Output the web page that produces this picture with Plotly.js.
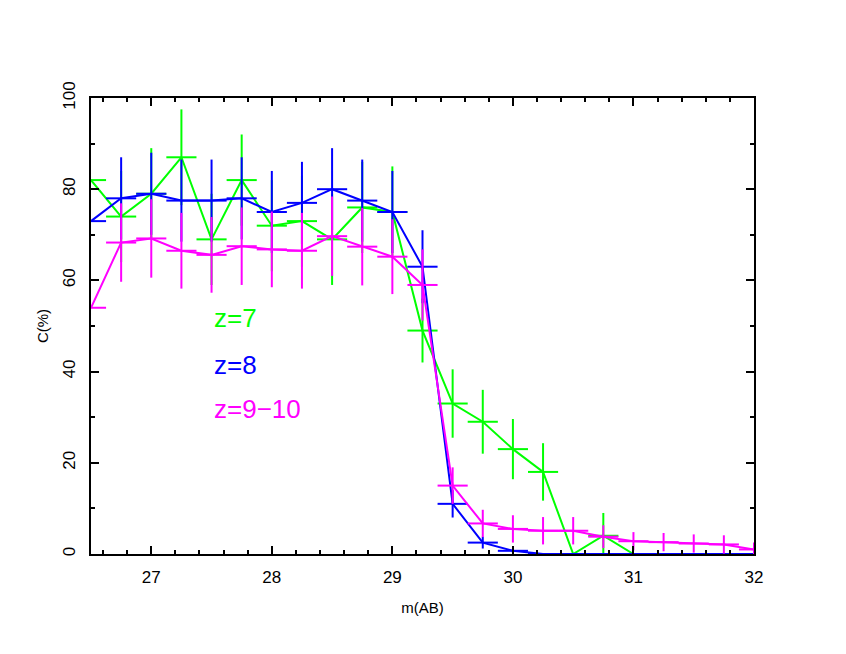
<!DOCTYPE html>
<html>
<head>
<meta charset="utf-8">
<script src="https://cdn.plot.ly/plotly-3.0.1.min.js"></script>
<style>
  body { margin: 0; background: #fff; }
  #chart { width: 846px; height: 654px; }
</style>
</head>
<body>
<div id="chart"></div>
<script>
// magnitude bins
const magZ7 = [26.5, 26.75, 27, 27.25, 27.5, 27.75, 28, 28.25, 28.5, 28.75, 29, 29.25, 29.5, 29.75, 30, 30.25, 30.5, 30.75, 31];
const magAll = [26.5, 26.75, 27, 27.25, 27.5, 27.75, 28, 28.25, 28.5, 28.75, 29, 29.25, 29.5, 29.75, 30, 30.25, 30.5, 30.75, 31, 31.25, 31.5, 31.75, 32];

// completeness (%) and errors (first bin sits on the frame, no bar visible)
const compZ7 = [82, 74, 79, 87, 69, 82, 72, 73, 69, 76, 75, 49, 33, 29, 23, 18, 0, 4, 0];
const errZ7  = [0, 10, 10, 10.5, 10, 10, 10, 10, 10, 10, 10, 7, 7.5, 7, 6.6, 6.3, 0, 5, 0];

const compZ8 = [73, 78, 79, 77.5, 77.5, 78, 75, 77, 80, 77.5, 75, 63, 11, 2.5, 0.7, 0, 0, 0, 0, 0, 0, 0, 0];
const errZ8  = [0, 9, 9, 9, 9, 9, 9, 9, 9, 9, 9, 8, 3, 1.3, 0.5, 0, 0, 0, 0, 0, 0, 0, 0];

const compZ910 = [54, 68.3, 69.2, 66.5, 65.6, 67.5, 66.8, 66.5, 69.7, 67.4, 65.2, 59, 15, 6.7, 5.5, 5.1, 5.1, 3.8, 2.8, 2.6, 2.3, 2.1, 1.0];
const errZ910  = [0, 8.6, 8.6, 8.3, 8.3, 8.5, 8.3, 8.3, 8.7, 8.5, 8.2, 7.8, 4, 3, 3, 3, 3, 2.5, 2, 2, 2, 2, 1.5];

const binHalf = 0.125;
const labels = ['z=7', 'z=8', 'z=9\u221210'];
const colors = ['#00ff00', '#0000ff', '#ff00ff'];

function makeTrace(x, y, err, color) {
  return {
    type: 'scatter',
    mode: 'lines',
    x: x,
    y: y,
    line: {color: color, width: 2},
    error_y: {type: 'data', array: err, visible: true, color: color, thickness: 2, width: 0},
    error_x: {type: 'constant', value: binHalf, visible: true, color: color, thickness: 2, width: 0},
    showlegend: false
  };
}

const data = [
  makeTrace(magZ7, compZ7, errZ7, colors[0]),
  makeTrace(magAll, compZ8, errZ8, colors[1]),
  makeTrace(magAll, compZ910, errZ910, colors[2])
];

const fontFam = 'Liberation Sans, Arial, sans-serif';

const axisCommon = {
  showline: true,
  linecolor: '#000',
  linewidth: 2,
  mirror: 'allticks',
  ticks: 'inside',
  ticklen: 8,
  tickwidth: 2,
  tickcolor: '#000',
  showgrid: false,
  zeroline: false,
  layer: 'above traces',
  ticklabelstandoff: 7,
  tickfont: {family: fontFam, size: 17, color: '#000'}
};

const layout = {
  width: 846,
  height: 654,
  margin: {l: 91, r: 92, t: 98, b: 100},
  paper_bgcolor: '#fff',
  plot_bgcolor: '#fff',
  xaxis: Object.assign({}, axisCommon, {
    range: [26.5, 32],
    dtick: 1,
    tick0: 27,
    minor: {ticks: 'inside', ticklen: 4, tickwidth: 2, tickcolor: '#000', dtick: 0.2, tick0: 0, showgrid: false},
    title: {text: 'm(AB)', font: {family: fontFam, size: 15, color: '#000'}, standoff: 16}
  }),
  yaxis: Object.assign({}, axisCommon, {
    range: [0, 100],
    dtick: 20,
    tickangle: -90,
    minor: {ticks: 'inside', ticklen: 4, tickwidth: 2, tickcolor: '#000', dtick: 10, showgrid: false},
    title: {text: 'C(%)', font: {family: fontFam, size: 15, color: '#000'}, standoff: 8}
  }),
  annotations: [
    {x: 27.5, y: 51.8, text: labels[0], font: {color: colors[0]}},
    {x: 27.5, y: 41.4, text: labels[1], font: {color: colors[1]}},
    {x: 27.5, y: 31.8, text: labels[2], font: {color: colors[2]}}
  ].map(a => ({
    x: a.x, y: a.y, xref: 'x', yref: 'y', text: a.text,
    showarrow: false, xanchor: 'left', yanchor: 'middle',
    font: {family: fontFam, size: 26, color: a.font.color}
  }))
};

Plotly.newPlot('chart', data, layout, {displayModeBar: false, staticPlot: true});
</script>
</body>
</html>
